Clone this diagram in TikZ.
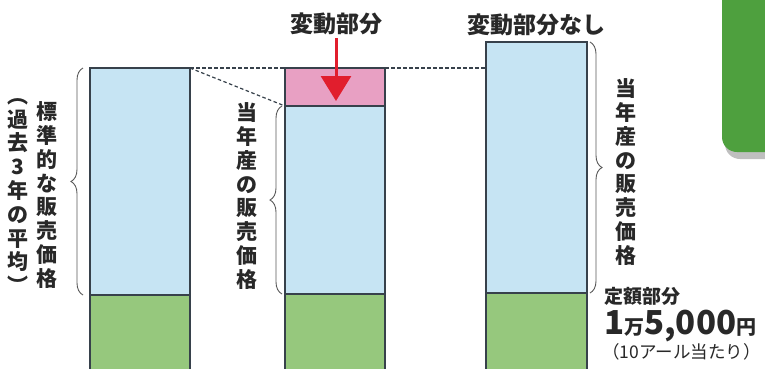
\documentclass[tikz,border=0pt]{standalone}
\usepackage{fontspec}
\newfontfamily\jp{Noto Sans CJK JP}
\usetikzlibrary{decorations.pathreplacing,arrows.meta}
\definecolor{barblue}{RGB}{198,228,243}
\definecolor{bargreen}{RGB}{150,200,125}
\definecolor{barpink}{RGB}{232,160,195}
\definecolor{barline}{RGB}{55,65,75}
\definecolor{arrowred}{RGB}{225,30,45}
\definecolor{tabgreen}{RGB}{78,160,62}
\definecolor{txt}{RGB}{40,40,40}
\tikzset{
  barbox/.style={draw=barline,line width=1.1pt,minimum width=100pt,anchor=north west,inner sep=0pt,outer sep=0pt},
  bluebar/.style={barbox,fill=barblue},
  greenbar/.style={barbox,fill=bargreen},
  pinkbar/.style={barbox,fill=barpink},
  dashline/.style={draw=barline,line width=1.2pt,dash pattern=on 3.5pt off 2.5pt},
  bracepath/.style={draw=black!65,line width=0.9pt,decorate,decoration={brace,amplitude=12pt,aspect=0.5}},
  vtext/.style={font=\jp\bfseries\fontsize{21}{23.8}\selectfont,align=center,inner sep=0pt,text=txt},
  htext/.style={font=\jp\bfseries\fontsize{23}{26}\selectfont,inner sep=0pt,text=txt},
}
\begin{document}
\begin{tikzpicture}[x=1pt,y=-1pt]
\useasboundingbox (0,0) rectangle (765,368);
% green tab top right with shadow
\fill[black!25,rounded corners=15pt] (725,-20) rectangle (785,159);
\fill[tabgreen,rounded corners=15pt] (722,-20) rectangle (785,152);
% bar 1
\node[bluebar,minimum height=227pt] (b1) at (90,68) {};
\node[greenbar,minimum height=80pt] (g1) at (90,295) {};
% bar 2
\node[pinkbar,minimum height=38pt] (p2) at (285,68) {};
\node[bluebar,minimum height=188pt] (b2) at (285,106) {};
\node[greenbar,minimum height=80pt] (g2) at (285,294) {};
% bar 3
\node[bluebar,minimum width=101pt,minimum height=251pt] (b3) at (486,42) {};
\node[greenbar,minimum width=101pt,minimum height=80pt] (g3) at (486,293) {};
\coordinate (b3in) at (b3.west |- p2.north);
% dashed lines
\draw[dashline] (b1.north east) -- (p2.north west);
\draw[dashline] (b1.north east) -- (b2.north west);
\draw[dashline] (p2.north east) -- (b3in);
% labels top
\node[htext] (va) at (336,24) {変動部分};
\node[htext] (vn) at (536,25) {変動部分なし};
\draw[arrowred,line width=3pt,-{Triangle[width=30pt,length=25pt]}] (va.south) ++(0,3) coordinate (vas) -- (336,101) coordinate (vae);
% braces
\draw[bracepath] (83,295) -- (83,68);
\draw[bracepath] (282,294) -- (282,106);
\draw[bracepath] (590,42) -- (590,293);
% vertical texts
\node[vtext] (t0) at (18,196) {︵\\過\\去\\3\\年\\の\\平\\均\\︶};
\node[vtext] (t1) at (47,195) {標\\準\\的\\な\\販\\売\\価\\格};
\node[vtext] (t2) at (247,196) {当\\年\\産\\の\\販\\売\\価\\格};
\node[vtext] (t3) at (626,172) {当\\年\\産\\の\\販\\売\\価\\格};
% bottom right texts
\node[htext,anchor=west,font=\jp\bfseries\fontsize{19}{20}\selectfont] (fx) at (604,296) {定額部分};
\node[anchor=west,inner sep=0pt,text=txt] (amt) at (604,326) {\jp\bfseries\fontsize{33}{33}\selectfont 1\fontsize{20}{21}\selectfont 万\fontsize{33}{33}\selectfont 5,000\fontsize{20}{21}\selectfont 円};
\node[anchor=west,inner sep=0pt,text=txt,font=\jp\fontsize{17.5}{18}\selectfont] (unit) at (602,352) {（10アール当たり）};
\end{tikzpicture}
\end{document}
